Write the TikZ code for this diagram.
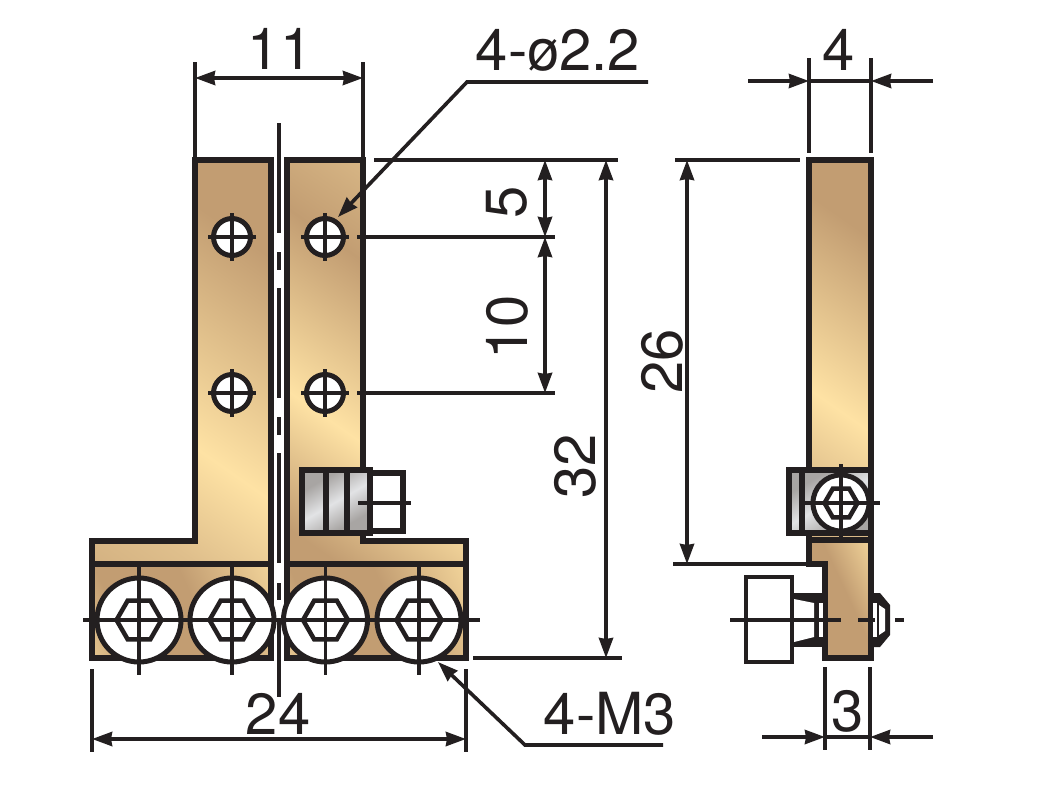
\documentclass[tikz,border=0pt]{standalone}
\usepackage{fontspec}
\setmainfont{TeX Gyre Heros}
\usetikzlibrary{arrows.meta,shapes.geometric}
\definecolor{inkdark}{HTML}{231F20}
\definecolor{brasslight}{HTML}{FEE2A4}
\definecolor{brassmid}{HTML}{DFBF8C}
\definecolor{brassdark}{HTML}{C29D72}
\definecolor{steellight}{HTML}{E2E3E5}
\definecolor{steeldark}{HTML}{A8A5A3}
\pgfdeclarehorizontalshading{brass}{100bp}{color(0bp)=(brassmid);color(20bp)=(brassmid);
  color(38bp)=(brassdark);color(62bp)=(brasslight);color(80bp)=(brassdark);color(100bp)=(brassdark)}
\pgfdeclarehorizontalshading{brassleft}{100bp}{color(0bp)=(brasslight);color(14bp)=(brassdark);
  color(28bp)=(brassdark);color(60bp)=(brasslight);color(75bp)=(brassmid);color(100bp)=(brassdark)}
\pgfdeclarehorizontalshading{brassband}{100bp}{color(0bp)=(brasslight);color(8bp)=(brasslight);
  color(30bp)=(brassdark);color(55bp)=(brassdark);color(90bp)=(brasslight);color(100bp)=(brasslight)}
\pgfdeclarehorizontalshading{steel}{100bp}{color(0bp)=(steeldark);color(30bp)=(steeldark);
  color(50bp)=(steellight);color(70bp)=(steeldark);color(100bp)=(steeldark)}
\tikzset{
    %Define standard arrow tip
    >={Stealth[length=20pt,width=14pt,inset=1pt]},
    %Define style for parts
    plate/.style={
           draw=inkdark,
           line width=5.2pt,
           miter limit=4},
    screwhead/.style={
           circle,
           draw=inkdark,
           line width=5pt,
           fill=white,
           inner sep=0pt},
    hexsocket/.style={
           regular polygon,
           regular polygon sides=6,
           draw=inkdark,
           line width=4.5pt,
           inner sep=0pt},
    % Define line styles
    axisline/.style={
           draw=inkdark,
           line width=3.8pt},
    dimline/.style={
           draw=inkdark,
           line width=3.6pt},
    dimtext/.style={
           text=inkdark,
           inner sep=0pt,
           font=\fontsize{58}{62}\selectfont}
}
\begin{document}
\begin{tikzpicture}[x=1pt,y=-1pt]
\useasboundingbox (0,0) rectangle (1051,787);

 %left plate
\path[plate,shading=brassleft,shading angle=-125] (195,160) -- (271,160) -- (271,564) -- (92,564) -- (92,541) -- (195,541) -- cycle;
\path[plate,shading=brassband,shading angle=25] (92,564) -- (271,564) -- (271,658) -- (92,658) -- cycle;
 %right plate
\path[plate,shading=brass,shading angle=-125] (287,160) -- (363,160) -- (363,541) -- (466,541) -- (466,564) -- (287,564) -- cycle;
\path[plate,shading=brassband,shading angle=25] (287,564) -- (466,564) -- (466,658) -- (287,658) -- cycle;

 %holes
\foreach \name/\hx/\hy in {ha/232/237,hb/325/237,hc/232/393,hd/325/393}{
  \node[screwhead,minimum size=37pt] (\name) at (\hx,\hy) {};
  \draw[axisline] (\hx-24,\hy) -- (\hx+24,\hy);
  \draw[axisline] (\hx,\hy-24) -- (\hx,\hy+24);
}

 %socket screws
\foreach \name/\sx in {sa/139,sb/232,sc/325.5,sd/419}{
  \node[screwhead,minimum size=84pt] (\name) at (\sx,620) {};
  \node[hexsocket,minimum size=45pt] (\name hex) at (\sx,620) {};
  \draw[axisline] (\sx,567) -- (\sx,675);
}
\draw[axisline] (83,620) -- (480,620);

 %centre line
\draw[axisline,line width=4.2pt] (279,123) -- (279,233);
\draw[axisline,line width=4.2pt] (279,252) -- (279,270);
\draw[axisline,line width=4.2pt] (279,288) -- (279,398);
\draw[axisline,line width=4.2pt] (279,417) -- (279,435);
\draw[axisline,line width=4.2pt] (279,453) -- (279,563);
\draw[axisline,line width=4.2pt] (279,583) -- (279,600);
\draw[axisline,line width=4.2pt] (279,620) -- (279,697);

 %set screw, front
\path[plate,shading=steel,shading angle=-60] (302,470) rectangle (370,533);
\draw[plate] (326,470) -- (326,533) (347,470) -- (347,533);
\draw[plate,fill=white] (370,473) rectangle (403,531);
\draw[axisline] (358,503) -- (411,503);

 %side view
\path[plate,shading=brassleft,shading angle=-125] (809,160) rectangle (871,540);
\path[plate,shading=brassband,shading angle=25] (809,540) -- (871,540) -- (871,658) -- (825,658) -- (825,564) -- (809,564) -- cycle;
\path[plate,shading=steel,shading angle=-60] (789,470) rectangle (871,533);
\draw[plate] (802,470) -- (802,533);
\node[screwhead,minimum size=56pt] (se) at (841,503) {};
\node[hexsocket,minimum size=33pt] (sehex) at (841,503) {};
\draw[axisline] (802,503) -- (880,503);
\draw[axisline] (841,464) -- (841,540);

 %screw and nut, side
\draw[plate,fill=white,line width=4.4pt] (746,577) rectangle (792,662);
\fill[inkdark] (792,593) -- (825,593) -- (825,647) -- (792,647) -- cycle;
\fill[white] (794,599) -- (814,603) -- (814,637) -- (794,642) -- cycle;
\fill[white] (819,603) rectangle (823,637);
\fill[inkdark] (871,593) -- (880,593) -- (890,605) -- (890,635) -- (880,647) -- (871,647) -- cycle;
\fill[white] (873,603) rectangle (877,637);
\fill[white] (879,605) -- (885,609) -- (885,631) -- (879,635) -- cycle;
\draw[axisline] (730,620) -- (841,620);
\draw[axisline] (858,620) -- (875,620);
\draw[axisline] (895,620) -- (904,620);

 %dimension lines
\draw[dimline] (195,62) -- (195,160) (363,62) -- (363,160);
\draw[dimline,<->] (195,78) -- (363,78);
\draw[dimline] (809,58) -- (809,153) (871,58) -- (871,153);
\draw[dimline] (809,81) -- (871,81);
\draw[dimline,->] (748,81) -- (809,81);
\draw[dimline,->] (933,81) -- (871,81);
\draw[dimline] (374,160) -- (618,160) (473,658) -- (622,658);
\draw[dimline] (357,237) -- (555,237) (357,393) -- (555,393);
\draw[dimline,<->] (545,160) -- (545,237);
\draw[dimline,<->] (545,237) -- (545,393);
\draw[dimline,<->] (606,160) -- (606,658);
\draw[dimline] (675,160) -- (800,160) (673,564) -- (806,564);
\draw[dimline,<->] (687,160) -- (687,564);
\draw[dimline] (92,669) -- (92,752) (466,669) -- (466,752);
\draw[dimline,<->] (92,739) -- (466,739);
\draw[dimline] (825,667) -- (825,750) (870,667) -- (870,750);
\draw[dimline] (825,737) -- (870,737);
\draw[dimline,->] (762,737) -- (825,737);
\draw[dimline,->] (933,737) -- (870,737);
\draw[dimline,->] (648,82) -- (467,82) -- (338,217);
\draw[dimline,->] (663,745) -- (525,745) -- (438,662);

 %labels
\node[dimtext] (lbla) at (280,49) {11};
\node[dimtext] (lblb) at (558,50) {4-ø2.2};
\node[dimtext] (lblc) at (839,50) {4};
\node[dimtext,rotate=90] (lbld) at (507,202) {5};
\node[dimtext,rotate=90] (lble) at (507,327) {10};
\node[dimtext,rotate=90] (lblf) at (575,466) {32};
\node[dimtext,rotate=90] (lblg) at (662,361) {26};
\node[dimtext] (lblh) at (278,714) {24};
\node[dimtext] (lbli) at (610,714) {4-M3};
\node[dimtext] (lblj) at (848,711) {3};

\end{tikzpicture}
\end{document}
